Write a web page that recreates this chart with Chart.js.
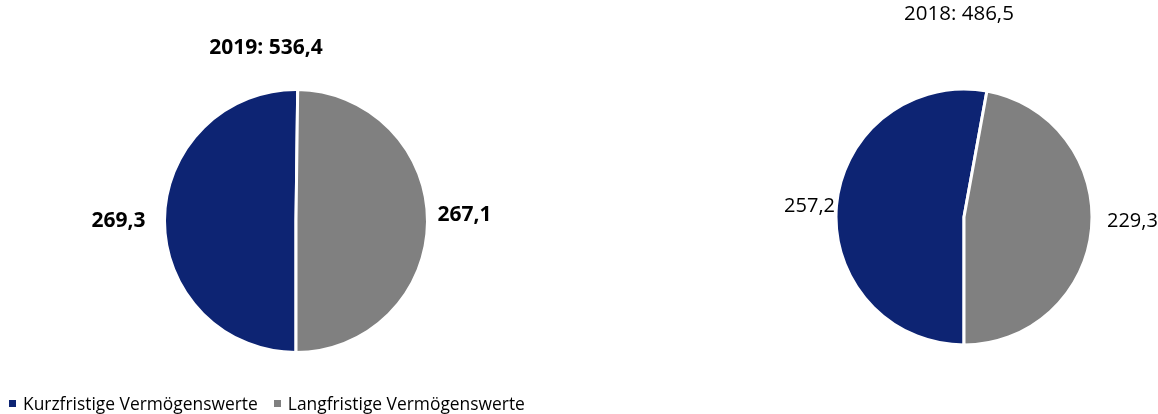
<!DOCTYPE html>
<html>
<head>
<meta charset="utf-8">
<script src="https://cdn.jsdelivr.net/npm/chart.js@4.4.0/dist/chart.umd.min.js"></script>
<style>
  html, body { margin: 0; padding: 0; background: #fff; width: 1158px; height: 414px; overflow: hidden; }
  body { position: relative; font-family: "Open Sans", sans-serif; }
  canvas { position: absolute; top: 0; }
  #legend { position: absolute; left: 9px; top: 391px; font-size: 17.4px; color: #000; white-space: nowrap; line-height: 24px; }
  #legend span.item { margin-right: 16px; }
  #legend i { display: inline-block; width: 7px; height: 7px; margin-right: 7px; vertical-align: 3px; }
</style>
</head>
<body>
<canvas id="pie2019" width="592" height="414" style="left:0"></canvas>
<canvas id="pie2018" width="388" height="414" style="left:770px"></canvas>
<div id="legend"></div>
<script>
const categories = ["Kurzfristige Vermögenswerte", "Langfristige Vermögenswerte"];
const years = ["2019", "2018"];
const values2019 = [269.3, 267.1];
const values2018 = [257.2, 229.3];
const colors = ["#0D2473", "#808080"];

const fmt = v => v.toFixed(1).replace(".", ",");
const sum = arr => arr.reduce((a, b) => a + b, 0);

// titles and value labels, placed relative to the pie drawn by Chart.js
const pieText = {
  id: "pieText",
  afterDatasetsDraw(chart, args, opts) {
    const meta = chart.getDatasetMeta(0);
    const { x, y, outerRadius } = meta.data[0];
    const ctx = chart.ctx;
    ctx.save();
    ctx.fillStyle = "#000";
    ctx.textBaseline = "middle";
    ctx.textAlign = "center";
    ctx.font = `${opts.weight} ${opts.titleSize}px "Open Sans"`;
    ctx.fillText(opts.title, x + opts.titleAt[0], y + opts.titleAt[1]);
    ctx.font = `${opts.weight} ${opts.size}px "Open Sans"`;
    chart.data.datasets[0].data.forEach((v, i) => {
      const arc = meta.data[i];
      const mid = (arc.startAngle + arc.endAngle) / 2;
      const side = Math.cos(mid) < 0 ? -1 : 1;
      const [gap, dy] = opts.labelAt[i];
      ctx.textAlign = side < 0 ? "right" : "left";
      ctx.fillText(fmt(v), x + side * (outerRadius + gap), y + dy);
    });
    ctx.restore();
  }
};

function makePie(id, values, year, radius, padTop, text) {
  return new Chart(document.getElementById(id), {
    type: "pie",
    data: {
      labels: categories,
      datasets: [{
        data: values,
        backgroundColor: colors,
        borderColor: "#fff",
        borderWidth: 3,
      }],
    },
    options: {
      responsive: false,
      animation: false,
      rotation: 180,
      radius,
      layout: { padding: { top: padTop } },
      plugins: {
        legend: { display: false },
        tooltip: { enabled: false },
        pieText: { title: `${year}: ${fmt(sum(values))}`, ...text },
      },
    },
    plugins: [pieText],
  });
}

makePie("pie2019", values2019, years[0], 131.5, 28,
  { weight: "bold", titleSize: 21, size: 21, titleAt: [-30, -173], labelAt: [[19, 0], [10, -6]] });
makePie("pie2018", values2018, years[1], 128, 20,
  { weight: "normal", titleSize: 20.5, size: 20, titleAt: [-5, -203], labelAt: [[1, -11], [15, 4]] });

document.getElementById("legend").innerHTML = categories
  .map((c, i) => `<span class="item"><i style="background:${colors[i]}"></i>${c}</span>`)
  .join("");
</script>
</body>
</html>
